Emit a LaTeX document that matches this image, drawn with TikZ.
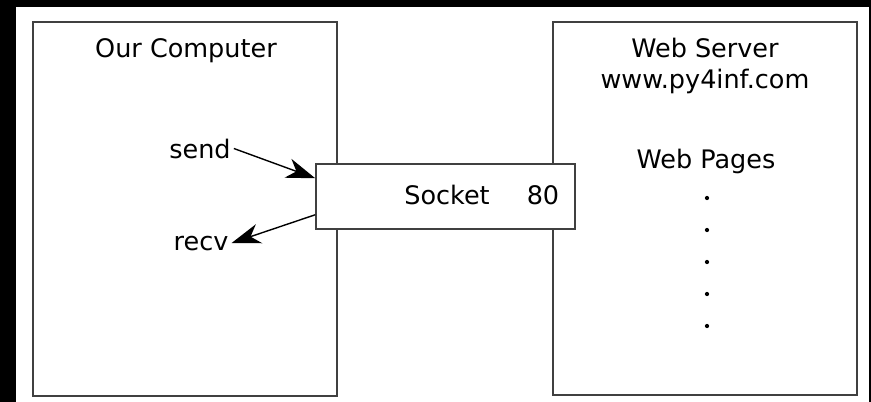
\documentclass[tikz,border=0pt]{standalone}
\usepackage{fontspec}
\setmainfont{DejaVu Sans}
\usetikzlibrary{arrows.meta}

\begin{document}
\begin{tikzpicture}
[x=1pt,y=-1pt,>={Stealth[length=29pt,width=20pt,inset=9pt]},
box/.style={draw=black!75,line width=1.5pt,fill=white,inner sep=0pt},
word/.style={anchor=base,inner sep=3pt,font=\fontsize{25.5}{30}\selectfont},
point/.style={circle,fill=black,inner sep=1.5pt},]

%Frame
\fill[black] (0,0) rectangle (871,402);
\fill[white] (16,7) rectangle (869,402);
\useasboundingbox (0,0) rectangle (871,402);

%Boxes
\node (C) at (185,209)[box,minimum width=304pt,minimum height=374pt] {};
\node (S) at (705,208.5)[box,minimum width=304pt,minimum height=373pt] {};
\node (K) at (445.5,196.5)[box,minimum width=259pt,minimum height=65pt] {};

%Labels
\node (OC) at (186,57)[word] {Our Computer};
\node (WS) at (705,57)[word] {Web Server};
\node (URL) at (705,88)[word] {www.py4inf.com};
\node (WP) at (706,168)[word] {Web Pages};
\node (SK) at (447,204)[word] {Socket};
\node (P80) at (543,204)[word] {80};
\node (SD) at (200,158)[word] {send};
\node (RV) at (201,250)[word] {recv};

\foreach \y [count=\i] in {198,230,262,294,326}
  \node (D\i) at (707,\y)[point] {};

%Arrows
\draw[->,line width=1.4pt] (SD.east) -- ([yshift=-15pt]K.north west);
\draw[->,line width=1.4pt] ([yshift=15pt]K.south west) -- (RV.east);

\end{tikzpicture}
\end{document}
